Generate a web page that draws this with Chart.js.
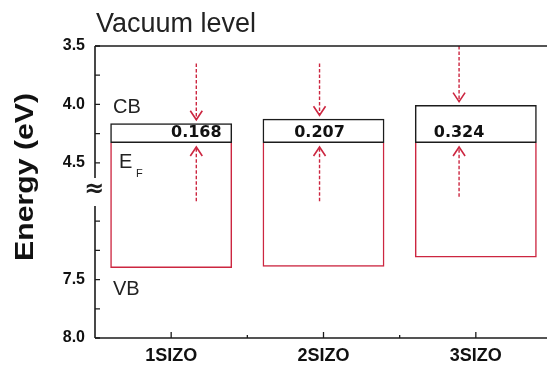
<!DOCTYPE html>
<html>
<head>
<meta charset="utf-8">
<script src="https://cdn.jsdelivr.net/npm/chart.js@4"></script>
<style>
  html, body { margin: 0; padding: 0; background: #fff; overflow: hidden; }
  #wrap { width: 547px; height: 366px; overflow: hidden; position: relative; }
  canvas { position: absolute; left: 0; top: 0; }
</style>
</head>
<body>
<div id="wrap"><canvas id="band-chart" width="560" height="366"></canvas></div>
<script>
// levels (eV below vacuum)
const categories = ['1SIZO', '2SIZO', '3SIZO'];
const cbLevel = [4.162, 4.123, 4.006];
const fermiLevel = [4.33, 4.33, 4.33];
const vbLevel = [7.40, 7.39, 7.31];
const gapLabels = ['0.168', '0.207', '0.324'];
// arrows: horizontal shift inside each category, where the dashed tails start
const arrowShift = [0.165, -0.026, -0.11];
const arrowTopStart = [3.65, 3.65, 3.5];
const arrowBottomEnd = [6.83, 6.83, 6.79];
const yMajorTicks = [3.5, 4.0, 4.5, 7.5, 8.0];
const yMinorTicks = [3.75, 4.25, 7.0, 7.25, 7.75];

// broken axis: energies past the break are moved up by 2 eV
const BREAK_AT = 5.5, BREAK_SHIFT = 2.0;
function toAxis(e) { return e > BREAK_AT ? e - BREAK_SHIFT : e; }
function fromAxis(u) { return u > 4.75 ? u + BREAK_SHIFT : u; }

const RED = '#cc2640';
const INK = '#1c1c1c';

var datasets = [
    {
        type: 'bar',
        data: categories.map((c, i) => ({ x: i, y: [cbLevel[i], fermiLevel[i]] })),
        borderColor: INK,
        borderWidth: 1.5,
        backgroundColor: 'rgba(0,0,0,0)',
        borderSkipped: false,
        grouped: false,
        barPercentage: 0.8,
        categoryPercentage: 1,
    },
    {
        type: 'bar',
        data: categories.map((c, i) => ({ x: i, y: [fermiLevel[i], toAxis(vbLevel[i])] })),
        borderColor: RED,
        borderWidth: 1.5,
        backgroundColor: 'rgba(0,0,0,0)',
        borderSkipped: 'start', // EF edge comes from the black box
        grouped: false,
        barPercentage: 0.8,
        categoryPercentage: 1,
    },
];
categories.forEach((c, i) => {
    const ax = i + arrowShift[i];
    // down arrow from vacuum side to CB
    datasets.push({
        type: 'line', isArrow: true,
        data: [{ x: ax, y: toAxis(arrowTopStart[i]) }, { x: ax, y: cbLevel[i] - 0.03 }],
        borderColor: RED, borderWidth: 1.4, borderDash: [3.5, 2], pointRadius: 0,
    });
    // up arrow towards EF
    datasets.push({
        type: 'line', isArrow: true,
        data: [{ x: ax, y: toAxis(arrowBottomEnd[i]) }, { x: ax, y: fermiLevel[i] + 0.035 }],
        borderColor: RED, borderWidth: 1.4, borderDash: [3.5, 2], pointRadius: 0,
    });
});

const bandDecor = {
    id: 'bandDecor',
    afterDatasetsDraw(chart) {
        const ctx = chart.ctx;
        ctx.save();
        chart.data.datasets.forEach((ds, idx) => {
            if (!ds.isArrow) return;
            const pts = chart.getDatasetMeta(idx).data;
            const tail = pts[0], tip = pts[1];
            const dir = tip.y > tail.y ? 1 : -1;
            ctx.strokeStyle = RED;
            ctx.lineWidth = 1.6;
            ctx.beginPath();
            ctx.moveTo(tip.x - 6, tip.y - dir * 9);
            ctx.lineTo(tip.x, tip.y);
            ctx.lineTo(tip.x + 6, tip.y - dir * 9);
            ctx.stroke();
        });
        ctx.restore();
    },
    afterDraw(chart) {
        const ctx = chart.ctx;
        const a = chart.chartArea;
        const xs = chart.scales.x, ys = chart.scales.y;
        ctx.save();
        ctx.strokeStyle = INK;
        ctx.lineWidth = 1.6;
        // frame: top, bottom, left with gap at the break
        ctx.beginPath();
        ctx.moveTo(a.left, a.top); ctx.lineTo(a.right, a.top);
        ctx.moveTo(a.left, a.bottom); ctx.lineTo(a.right, a.bottom);
        ctx.moveTo(a.left, a.top); ctx.lineTo(a.left, ys.getPixelForValue(4.63));
        ctx.moveTo(a.left, ys.getPixelForValue(4.87)); ctx.lineTo(a.left, a.bottom);
        ctx.stroke();
        // inward ticks
        ctx.lineWidth = 1.3;
        ctx.beginPath();
        yMajorTicks.concat(yMinorTicks).forEach(e => {
            const py = ys.getPixelForValue(toAxis(e));
            ctx.moveTo(a.left, py); ctx.lineTo(a.left + 5, py);
        });
        categories.forEach((c, i) => {
            const px = xs.getPixelForValue(i);
            ctx.moveTo(px, a.bottom); ctx.lineTo(px, a.bottom - 6);
        });
        [0.5, 1.5].forEach(v => {
            const px = xs.getPixelForValue(v);
            ctx.moveTo(px, a.bottom); ctx.lineTo(px, a.bottom - 3);
        });
        ctx.stroke();

        // break mark
        ctx.fillStyle = INK;
        ctx.font = 'bold 24px "DejaVu Sans"';
        ctx.textAlign = 'center';
        ctx.textBaseline = 'middle';
        ctx.fillText('\u2248', a.left - 1, ys.getPixelForValue(4.73));

        // gap values inside the boxes
        ctx.font = 'bold 16px "DejaVu Sans"';
        ctx.fillStyle = '#111';
        categories.forEach((c, i) => {
            ctx.fillText(gapLabels[i], xs.getPixelForValue(i + arrowShift[i]), ys.getPixelForValue(fermiLevel[i] - 0.085));
        });

        // annotations
        ctx.textAlign = 'left';
        ctx.textBaseline = 'alphabetic';
        ctx.fillStyle = '#222';
        ctx.font = '27px "Liberation Sans"';
        ctx.fillText('Vacuum level', a.left + 1, 32);
        ctx.font = '20px "Liberation Sans"';
        ctx.fillText('CB', a.left + 18, 113);
        ctx.fillText('VB', a.left + 18, 295);
        ctx.font = '20px "Liberation Sans"';
        ctx.fillText('E', a.left + 24, 168);
        ctx.font = '11px "Liberation Sans"';
        ctx.fillText('F', a.left + 41, 177);

        // y title, stretched along its length like the original
        ctx.font = 'bold 26px "Liberation Sans"';
        const label = 'Energy (eV)';
        const w = ctx.measureText(label).width;
        ctx.translate(33, (a.top + a.bottom) / 2 - 15);
        ctx.rotate(-Math.PI / 2);
        ctx.scale(168 / w, 1);
        ctx.textAlign = 'center';
        ctx.fillStyle = '#111';
        ctx.fillText(label, 0, 0);
        ctx.restore();
    }
};

const ctx = document.getElementById('band-chart').getContext('2d');
var chart = new Chart(ctx, {
    type: 'bar',
    data: { datasets: datasets },
    plugins: [bandDecor],
    options: {
        responsive: false,
        animation: false,
        devicePixelRatio: 1,
        layout: { padding: { left: 0, right: 8, top: 46, bottom: 0 } },
        plugins: { legend: { display: false }, tooltip: { enabled: false } },
        scales: {
            x: {
                type: 'linear',
                min: -0.5,
                max: 2.5,
                offset: false,
                grid: { display: false, drawTicks: false },
                border: { display: false },
                afterBuildTicks: s => { s.ticks = categories.map((c, i) => ({ value: i })); },
                ticks: {
                    callback: v => categories[Math.round(v)] || '',
                    font: { family: 'Liberation Sans', weight: 'bold', size: 18 },
                    color: '#111',
                    padding: 7,
                    maxRotation: 0,
                    autoSkip: false,
                },
                afterFit: s => { s.height = 28; },
            },
            y: {
                type: 'linear',
                reverse: true,
                min: 3.5,
                max: 6.0,
                grid: { display: false, drawTicks: false },
                border: { display: false },
                afterBuildTicks: s => { s.ticks = yMajorTicks.map(e => ({ value: toAxis(e) })); },
                ticks: {
                    callback: v => fromAxis(v).toFixed(1),
                    font: { family: 'Liberation Sans', weight: 'bold', size: 16 },
                    color: '#111',
                    padding: 10,
                },
                afterFit: s => { s.width = 95; },
            },
        },
    },
});
</script>
</body>
</html>
